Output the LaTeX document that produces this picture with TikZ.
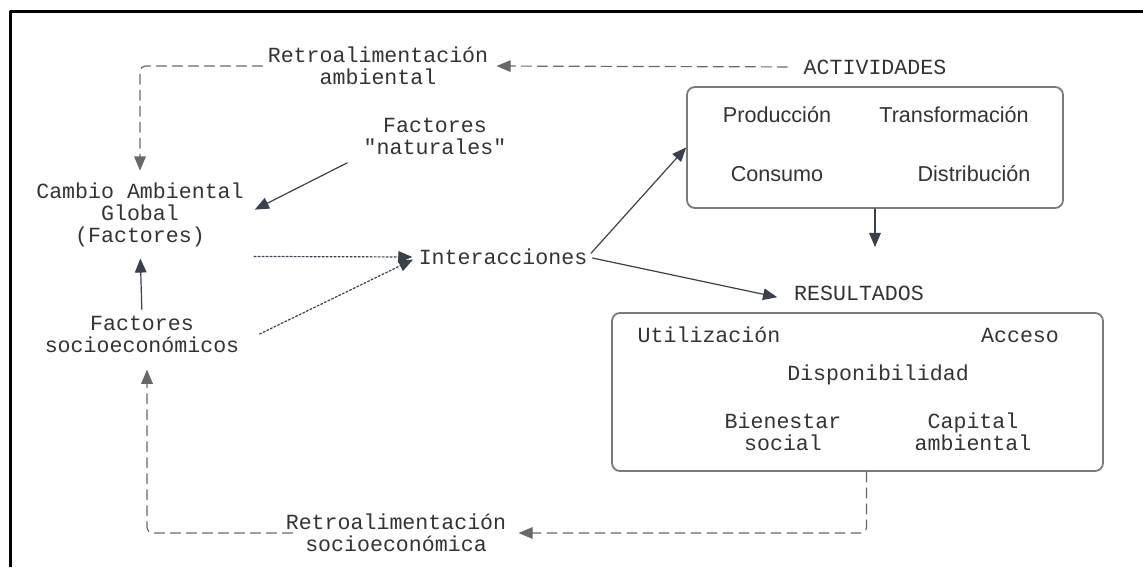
\documentclass[tikz,border=0pt]{standalone}
\usepackage{fontspec}
\setmainfont{Liberation Mono}[Ligatures=TeXOff]
\setsansfont{Liberation Sans}
\usetikzlibrary{arrows}
\definecolor{ink}{HTML}{333333}
\definecolor{edge}{HTML}{3A414A}
\definecolor{frame}{HTML}{7A7A7A}

\begin{document}
\begin{tikzpicture}[line cap=round,line join=round,>=triangle 45,x=0.5pt,y=-0.5pt,
    txt/.style={text=ink, align=center, inner sep=0pt, font=\fontsize{10.8}{11}\selectfont},
    sf/.style={txt, font=\sffamily\fontsize{10.8}{11}\selectfont},
    box/.style={draw=frame, rounded corners=4pt, line width=0.9pt, inner sep=0pt},
    flow/.style={->, draw=edge, line width=0.6pt},
    fb/.style={->, draw=frame!85!black, line width=0.6pt, dash pattern=on 5pt off 3pt, rounded corners=3pt},
    link/.style={->, draw=edge, line width=0.6pt, dash pattern=on 1pt off 1pt}]
    \useasboundingbox (0,0) rectangle (1143,567);
    \draw [line width=1.5pt, line cap=butt] (10,567) -- (10,12) -- (1143,12);

    \node[txt] (retroA) at (378,66) {Retroalimentación\\ambiental};
    \node[txt] (act) at (875,67) {ACTIVIDADES};
    \node[txt] (nat) at (435,136) {Factores\\"naturales"};
    \node[txt] (cag) at (140,215) {Cambio Ambiental\\Global\\(Factores)};
    \node[txt] (soc) at (142,334) {Factores\\socioeconómicos};
    \node[txt] (inter) at (503,257) {Interacciones};
    \node[txt] (res) at (859,293) {RESULTADOS};
    \node[txt] (retroS) at (396,533) {Retroalimentación\\socioeconómica};

    % actividades
    \node[box, minimum width=188pt, minimum height=60.5pt] (actbox) at (875,147.5) {};
    \node[sf] (prod) at (777,115) {Producción};
    \node[sf] (trans) at (954,115) {Transformación};
    \node[sf] (cons) at (777,174) {Consumo};
    \node[sf] (dist) at (974,174) {Distribución};
    \coordinate (actend) at (875,247);

    % resultados
    \node[box, minimum width=245.5pt, minimum height=79pt] (resbox) at (857.5,392) {};
    \node[txt] (util) at (709,335) {Utilización};
    \node[txt] (acc) at (1020,335) {Acceso};
    \node[txt] (disp) at (878,375) {Disponibilidad};
    \node[txt] (bien) at (783,432) {Bienestar\\social};
    \node[txt] (cap) at (973,432) {Capital\\ambiental};

    \draw [fb, shorten <=8pt, shorten >=4pt] (act.west) -- (retroA.east);
    \draw [fb, shorten <=2.5pt, shorten >=6pt] (retroA.west) -| (cag.north);
    \draw [flow, shorten <=9pt, shorten >=6pt] (nat.south west) -- (cag.east);
    \draw [flow, shorten <=3pt, shorten >=5.5pt] (soc.north) -- (cag.south);
    \draw [link, shorten >=3pt] ([xshift=5pt,yshift=-4.5pt]cag.south east) -- (inter.west);
    \draw [link, shorten >=3pt] ([xshift=10pt]soc.east) -- (inter.west);
    \draw [flow, shorten <=2.5pt] (inter.east) -- (actbox.west);
    \draw [flow, shorten <=2.5pt, shorten >=8.5pt] (inter.east) -- (res.south west);
    \draw [flow] (actbox.south) -- (actend);
    \draw [fb, shorten >=6pt] ([xshift=4.5pt]resbox.south) |- (retroS.east);
    \draw [fb, shorten <=-3.5pt, shorten >=8.5pt] (retroS.west) -| ([xshift=2.5pt]soc.south);
\end{tikzpicture}
\end{document}
